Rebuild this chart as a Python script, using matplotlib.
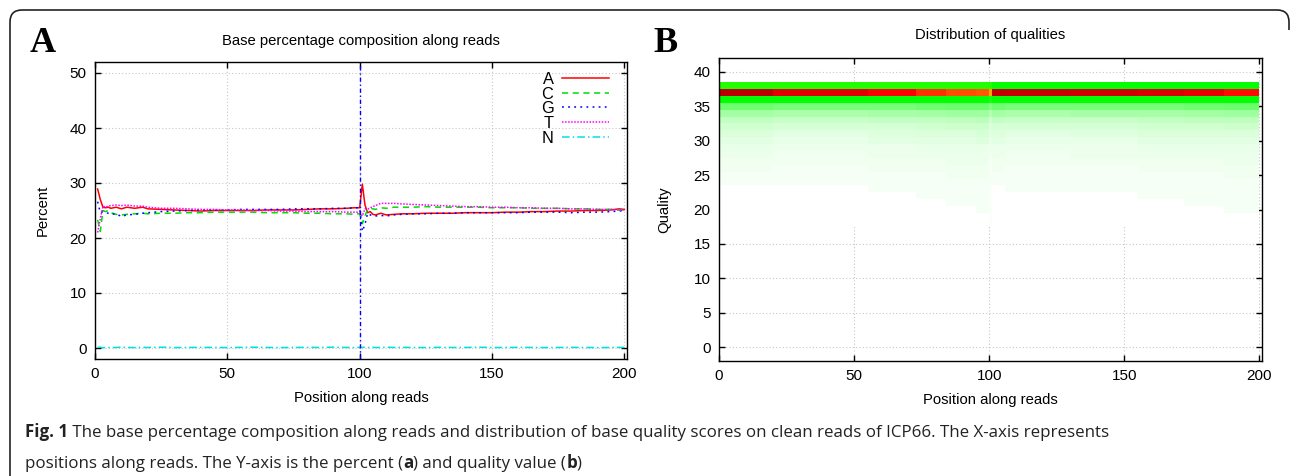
import matplotlib
matplotlib.use("Agg")
import matplotlib.pyplot as plt
from matplotlib.colors import LinearSegmentedColormap
from matplotlib.path import Path
from matplotlib.patches import PathPatch
import numpy as np

plt.rcParams['font.family'] = ['Liberation Sans', 'DejaVu Sans']

# ---------------- Panel A data: base composition (%) ----------------
positions = [1, 2, 3, 4, 5, 6, 8, 10, 12, 15, 18, 20, 25, 30, 35, 40, 45, 50, 55, 60,
             65, 70, 75, 80, 85, 90, 95, 98, 99, 100, 101, 102, 103, 104, 105, 106, 108, 110, 113, 116,
             120, 125, 130, 135, 140, 145, 150, 155, 160, 165, 170, 175, 180, 185, 190, 195, 198, 200]
pct_A = [28.9, 27.0, 25.6, 25.5, 25.6, 25.4, 25.6, 25.3, 25.6, 25.4, 25.6, 25.3, 25.2, 25.1, 25.0, 24.9, 25.0, 25.0, 25.0, 25.0,
         25.1, 25.1, 25.1, 25.2, 25.3, 25.3, 25.4, 25.5, 25.5, 25.5, 29.8, 26.0, 24.6, 24.8, 24.3, 24.2, 24.5, 24.2, 24.3, 24.4,
         24.4, 24.5, 24.5, 24.5, 24.6, 24.6, 24.6, 24.7, 24.7, 24.8, 24.8, 24.9, 24.9, 25.0, 25.0, 25.1, 25.3, 25.2]
pct_C = [23.3, 21.2, 25.0, 24.8, 25.0, 24.6, 24.3, 24.2, 24.3, 24.4, 24.5, 24.4, 24.5, 24.5, 24.6, 24.6, 24.7, 24.7, 24.7, 24.7,
         24.6, 24.6, 24.6, 24.5, 24.5, 24.4, 24.4, 24.3, 24.4, 24.4, 22.6, 24.0, 25.2, 25.4, 25.3, 25.2, 25.5, 25.4, 25.6, 25.6,
         25.6, 25.7, 25.6, 25.6, 25.6, 25.6, 25.5, 25.5, 25.5, 25.4, 25.4, 25.4, 25.3, 25.3, 25.2, 25.2, 25.1, 25.0]
pct_G = [26.6, 24.6, 24.8, 24.6, 24.5, 24.3, 24.4, 23.9, 24.2, 24.3, 24.5, 24.6, 24.8, 24.9, 25.0, 25.1, 25.1, 25.1, 25.2, 25.2,
         25.2, 25.2, 25.3, 25.3, 25.3, 25.4, 25.4, 25.5, 25.5, 25.5, 21.2, 22.5, 24.5, 24.2, 24.0, 24.0, 24.1, 24.0, 24.2, 24.3,
         24.4, 24.4, 24.5, 24.5, 24.6, 24.6, 24.6, 24.6, 24.6, 24.7, 24.7, 24.7, 24.6, 24.7, 24.7, 24.8, 24.9, 25.0]
pct_T = [21.0, 23.5, 25.8, 25.6, 25.8, 25.9, 26.0, 25.9, 26.0, 25.8, 25.8, 25.6, 25.4, 25.4, 25.3, 25.2, 25.2, 25.1, 25.1, 25.0,
         25.0, 24.9, 24.9, 24.8, 24.8, 24.8, 24.7, 24.7, 24.7, 24.6, 24.0, 25.3, 25.2, 25.5, 25.7, 25.9, 26.3, 26.3, 26.3, 26.2,
         26.1, 26.0, 25.9, 25.8, 25.7, 25.7, 25.6, 25.6, 25.5, 25.5, 25.4, 25.4, 25.3, 25.3, 25.2, 25.2, 25.1, 25.1]
pct_N = [0.10, 0.15, 0.05, 0.10, 0.12, 0.08, 0.10, 0.15, 0.10, 0.08, 0.12, 0.10, 0.15, 0.08, 0.10, 0.12, 0.10, 0.08, 0.12, 0.15,
         0.10, 0.08, 0.10, 0.12, 0.10, 0.15, 0.10, 0.08, 0.10, 0.12, 0.10, 0.15, 0.08, 0.10, 0.12, 0.10, 0.08, 0.15, 0.10, 0.12,
         0.10, 0.08, 0.12, 0.10, 0.10, 0.15, 0.08, 0.10, 0.12, 0.10, 0.08, 0.10, 0.12, 0.10, 0.08, 0.10, 0.12, 0.10]
base_labels = ["A", "C", "G", "T", "N"]
read_split = 100

# ---------------- Panel B data: quality distribution ----------------
seg_edges = [0, 20, 55, 73, 84, 95, 100, 101, 106, 130, 155, 172, 187, 200]
quality_levels = list(range(18, 39))
q18 = [0, 0, 0, 0, 0, 0, 0.004, 0, 0, 0, 0, 0, 0]
q19 = [0, 0, 0, 0, 0, 0, 0.004, 0, 0, 0, 0, 0, 0]
q20 = [0, 0, 0, 0, 0, 0.006, 0.005, 0, 0, 0, 0, 0, 0.006]
q21 = [0, 0, 0, 0, 0.006, 0.006, 0.005, 0, 0, 0, 0, 0.006, 0.006]
q22 = [0, 0, 0, 0.006, 0.006, 0.007, 0.005, 0, 0, 0, 0.006, 0.006, 0.007]
q23 = [0, 0, 0.006, 0.007, 0.007, 0.007, 0.005, 0, 0.006, 0.006, 0.006, 0.007, 0.007]
q24 = [0.007, 0.006, 0.007, 0.007, 0.008, 0.008, 0.006, 0.006, 0.006, 0.006, 0.007, 0.007, 0.008]
q25 = [0.008, 0.007, 0.008, 0.008, 0.009, 0.009, 0.006, 0.008, 0.007, 0.007, 0.008, 0.008, 0.009]
q26 = [0.009, 0.008, 0.009, 0.009, 0.010, 0.010, 0.007, 0.009, 0.008, 0.008, 0.009, 0.009, 0.010]
q27 = [0.010, 0.009, 0.010, 0.010, 0.011, 0.011, 0.008, 0.010, 0.009, 0.009, 0.010, 0.010, 0.011]
q28 = [0.012, 0.010, 0.011, 0.012, 0.013, 0.013, 0.009, 0.011, 0.010, 0.011, 0.012, 0.012, 0.013]
q29 = [0.014, 0.012, 0.013, 0.014, 0.015, 0.016, 0.011, 0.013, 0.012, 0.013, 0.014, 0.015, 0.015]
q30 = [0.018, 0.015, 0.017, 0.018, 0.019, 0.020, 0.014, 0.017, 0.015, 0.016, 0.017, 0.018, 0.019]
q31 = [0.022, 0.019, 0.021, 0.023, 0.024, 0.025, 0.017, 0.021, 0.019, 0.020, 0.022, 0.023, 0.024]
q32 = [0.028, 0.025, 0.027, 0.029, 0.031, 0.032, 0.022, 0.027, 0.025, 0.026, 0.028, 0.030, 0.031]
q33 = [0.038, 0.034, 0.036, 0.038, 0.040, 0.042, 0.030, 0.036, 0.034, 0.035, 0.037, 0.039, 0.040]
q34 = [0.055, 0.050, 0.052, 0.055, 0.058, 0.060, 0.045, 0.055, 0.050, 0.052, 0.054, 0.056, 0.058]
q35 = [0.085, 0.080, 0.080, 0.085, 0.088, 0.090, 0.075, 0.085, 0.080, 0.080, 0.082, 0.085, 0.088]
q36 = [0.15, 0.15, 0.15, 0.15, 0.15, 0.15, 0.14, 0.15, 0.15, 0.15, 0.15, 0.15, 0.15]
q37 = [0.64, 0.56, 0.50, 0.46, 0.44, 0.43, 0.37, 0.63, 0.62, 0.60, 0.58, 0.55, 0.49]
q38 = [0.17, 0.17, 0.17, 0.17, 0.17, 0.17, 0.17, 0.15, 0.15, 0.15, 0.15, 0.15, 0.15]
quality_rows = [q18, q19, q20, q21, q22, q23, q24, q25, q26, q27, q28, q29, q30,
                q31, q32, q33, q34, q35, q36, q37, q38]

caption_bold = "Fig. 1"
caption_line1 = (" The base percentage composition along reads and distribution of base quality "
                 "scores on clean reads of ICP66. The X-axis represents")
caption_line2 = ["positions along reads. The Y-axis is the percent (", "a", ") and quality value (", "b", ")"]

# ---------------- Figure ----------------
W, H = 1290, 476
fig = plt.figure(figsize=(W / 100, H / 100), dpi=100)


def px_axes(l, t, r, b):
    return fig.add_axes([l / W, 1 - b / H, (r - l) / W, (b - t) / H])


def style_axes(ax):
    for s in ax.spines.values():
        s.set_linewidth(1.0)
        s.set_color('black')
    ax.tick_params(direction='in', top=True, right=True, length=4, width=1.0,
                   labelsize=11, pad=6)
    ax.grid(True, color='#c8c8c8', linestyle=(0, (1, 2)), linewidth=0.8)
    ax.set_axisbelow(True)


# Panel A
axA = px_axes(95, 62, 627, 359)
styles = [
    dict(color='#ff0000', linestyle='-'),
    dict(color='#00dd00', linestyle=(0, (4, 3))),
    dict(color='#0000ff', linestyle=(0, (1.2, 2.8))),
    dict(color='#ff00ff', linestyle=(0, (1, 1))),
    dict(color='#00e0e0', linestyle=(0, (5, 2, 1, 2))),
]
series = [pct_A, pct_C, pct_G, pct_T, pct_N]
for lab, vals, st in zip(base_labels, series, styles):
    axA.plot(positions, vals, label=lab, linewidth=1.1, **st)
axA.axvline(read_split, color='#0000ff', linestyle=(0, (3, 2, 1, 2)), linewidth=1.0)
axA.set_xlim(0, 201)
axA.set_ylim(-2, 52)
axA.set_xticks([0, 50, 100, 150, 200])
axA.set_yticks([0, 10, 20, 30, 40, 50])
style_axes(axA)
axA.set_title("Base percentage composition along reads", fontsize=10.7, pad=12)
axA.set_xlabel("Position along reads", fontsize=10.7, labelpad=7)
axA.set_ylabel("Percent", fontsize=10.7, labelpad=14)
axA.legend(loc='upper right', markerfirst=False, frameon=False, fontsize=11.8,
           handlelength=2.9, handletextpad=0.5, labelspacing=-0.02,
           borderaxespad=0.2, bbox_to_anchor=(0.985, 1.0))

# Panel B
axB = px_axes(719, 58, 1262, 361)
cmap = LinearSegmentedColormap.from_list(
    'qual', [(0.0, '#ffffff'), (0.15 / 0.7, '#00ff00'), (0.30 / 0.7, '#ffff00'),
             (0.50 / 0.7, '#ff0000'), (1.0, '#a00000')])
Z = np.array(quality_rows)
q_edges = [q - 0.5 for q in quality_levels] + [quality_levels[-1] + 0.5]
axB.pcolormesh(seg_edges, q_edges, Z, cmap=cmap, vmin=0, vmax=0.7, shading='flat')
axB.set_xlim(0, 201)
axB.set_ylim(-2, 42)
axB.set_xticks([0, 50, 100, 150, 200])
axB.set_yticks(list(range(0, 41, 5)))
style_axes(axB)
axB.set_title("Distribution of qualities", fontsize=10.7, pad=14)
axB.set_xlabel("Position along reads", fontsize=10.7, labelpad=7)
axB.set_ylabel("Quality", fontsize=10.7, labelpad=16)

# Panel letters
fig.text(43 / W, 1 - 43 / H, "A", fontsize=26, fontweight='bold',
         family='Liberation Serif', ha='center', va='center')
fig.text(665 / W, 1 - 43 / H, "B", fontsize=26, fontweight='bold',
         family='Liberation Serif', ha='center', va='center')


# Outer frame (left, top, rounded corners)
def fpt(x, y):
    return (x / 100, (H - y) / 100)


verts = [fpt(10, 476), fpt(10, 22), fpt(10, 10), fpt(22, 10), fpt(1277, 10),
         fpt(1289, 10), fpt(1289, 22), fpt(1289, 30)]
codes = [Path.MOVETO, Path.LINETO, Path.CURVE3, Path.CURVE3, Path.LINETO,
         Path.CURVE3, Path.CURVE3, Path.LINETO]
frame = PathPatch(Path(verts, codes), facecolor='none', edgecolor='#222222',
                  linewidth=1.2, transform=fig.dpi_scale_trans)
fig.add_artist(frame)

# Caption
cap_kw = dict(fontsize=12.2, family='Open Sans', color='#222222')
t1 = fig.text(25 / W, 1 - 437 / H, caption_bold, fontweight='bold', va='baseline', **cap_kw)
axA.annotate(caption_line1, xy=(1, 0), xycoords=t1, va='bottom', ha='left',
             annotation_clip=False, **cap_kw)
prev = fig.text(25 / W, 1 - 468 / H, caption_line2[0], va='baseline', **cap_kw)
for part in caption_line2[1:]:
    weight = 'bold' if part in ("a", "b") else 'normal'
    prev = axA.annotate(part, xy=(1, 0), xycoords=prev, va='bottom', ha='left',
                        fontweight=weight, annotation_clip=False, **cap_kw)

fig.savefig("out.png", dpi=100)
